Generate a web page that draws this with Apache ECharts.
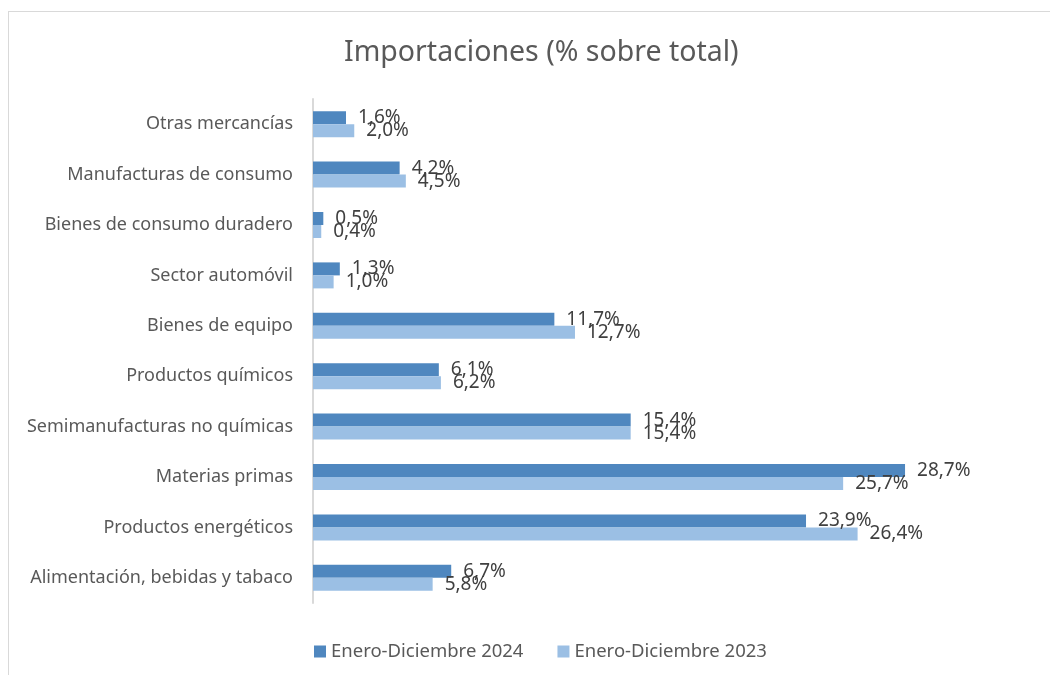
<!DOCTYPE html>
<html>
<head>
<meta charset="utf-8">
<script src="https://cdn.jsdelivr.net/npm/echarts@6/dist/echarts.min.js"></script>
<style>
    html, body { margin: 0; padding: 0; background: #fff; }
    #frame { position: absolute; left: 8px; top: 11px; width: 1100px; height: 700px; border: 1px solid #d9d9d9; }
    #chart { position: absolute; left: 0; top: 0; width: 1050px; height: 675px; }
</style>
</head>
<body>
<div id="frame"></div>
<div id="chart"></div>
<script>
// categorias de abajo hacia arriba
var categories = [
    'Alimentación, bebidas y tabaco',
    'Productos energéticos',
    'Materias primas',
    'Semimanufacturas no químicas',
    'Productos químicos',
    'Bienes de equipo',
    'Sector automóvil',
    'Bienes de consumo duradero',
    'Manufacturas de consumo',
    'Otras mercancías'
];
var values2024 = [6.7, 23.9, 28.7, 15.4, 6.1, 11.7, 1.3, 0.5, 4.2, 1.6];
var values2023 = [5.8, 26.4, 25.7, 15.4, 6.2, 12.7, 1.0, 0.4, 4.5, 2.0];

var fontFamily = 'Noto Sans';

function fmt(p) {
    return p.value.toFixed(1).replace('.', ',') + '%';
}

var myChart = echarts.init(document.getElementById('chart'));
var option = {
    title: {
        text: 'Importaciones (% sobre total)',
        left: 339,
        top: 33,
        textStyle: {color: '#595959', fontSize: 28.5, fontWeight: 'normal', fontFamily: fontFamily}
    },
    legend: {
        data: ['Enero-Diciembre 2024', 'Enero-Diciembre 2023'],
        left: 309,
        top: 637,
        itemWidth: 12,
        itemHeight: 12,
        itemGap: 34,
        icon: 'rect',
        textStyle: {color: '#595959', fontSize: 18.5, fontFamily: fontFamily}
    },
    grid: {left: 313, top: 99, width: 722, height: 504},
    xAxis: {
        type: 'value',
        min: 0,
        max: 35,
        show: false
    },
    yAxis: {
        type: 'category',
        data: categories,
        axisLine: {lineStyle: {color: '#d9d9d9', width: 2}},
        axisTick: {show: false},
        axisLabel: {color: '#595959', fontSize: 18, fontFamily: fontFamily, margin: 20}
    },
    series: [{
        name: 'Enero-Diciembre 2024',
        type: 'bar',
        data: values2024,
        barWidth: 13,
        barGap: '0%',
        itemStyle: {color: '#4f87bf'},
        label: {show: true, position: 'right', distance: 12, formatter: fmt,
            color: '#404040', fontSize: 19, fontFamily: fontFamily}
    }, {
        name: 'Enero-Diciembre 2023',
        type: 'bar',
        data: values2023,
        barWidth: 13,
        barGap: '0%',
        itemStyle: {color: '#9bbfe4'},
        label: {show: true, position: 'right', distance: 12, formatter: fmt,
            color: '#404040', fontSize: 19, fontFamily: fontFamily}
    }]
};
myChart.setOption(option);
</script>
</body>
</html>
